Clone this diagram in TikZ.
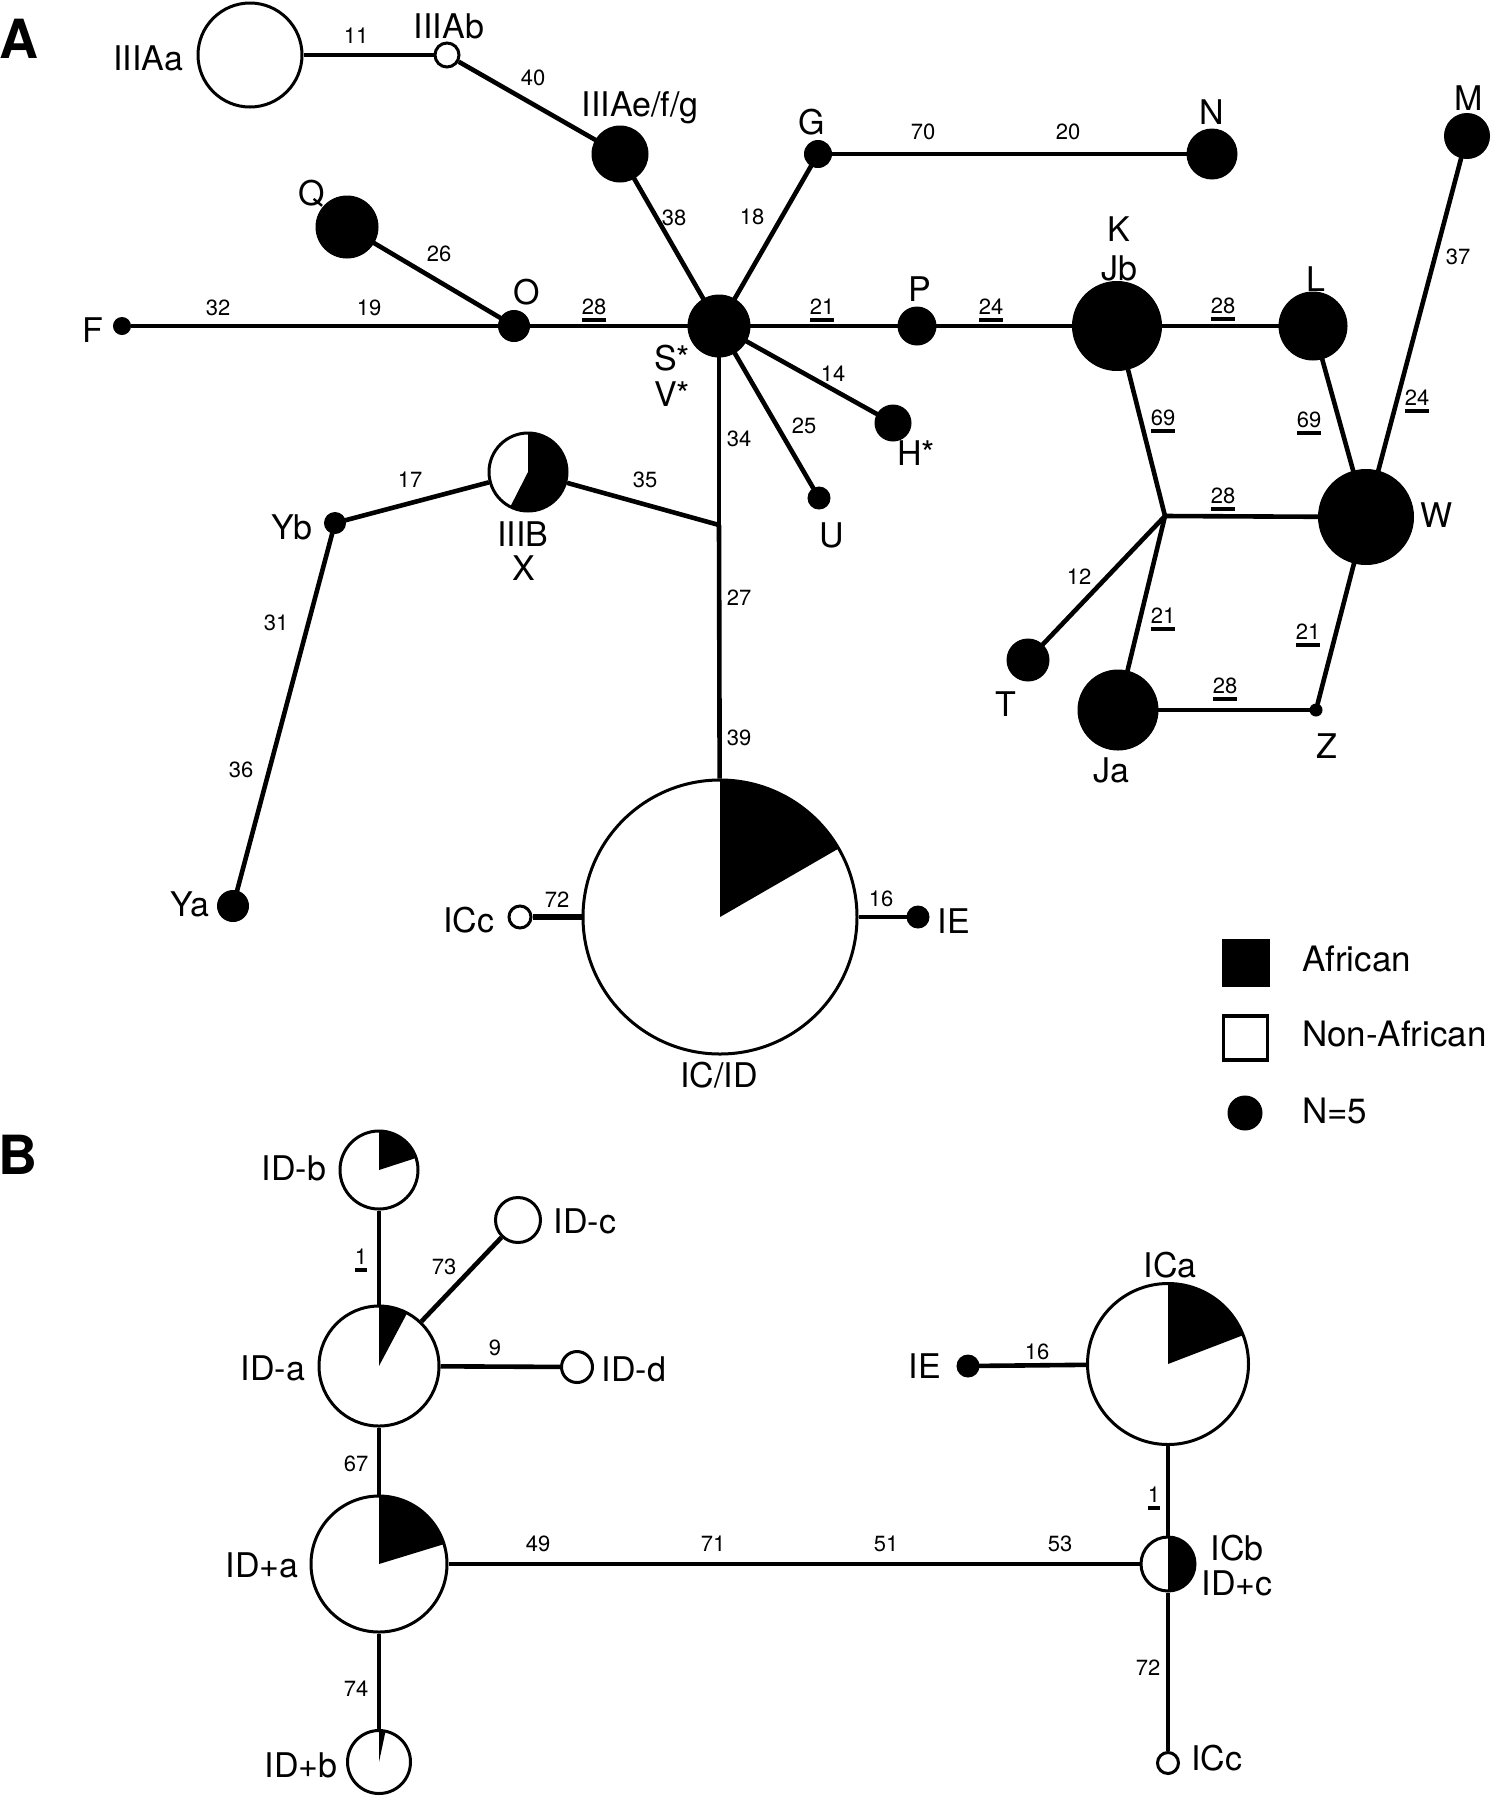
\documentclass[tikz,border=0pt]{standalone}
\usepackage{fontspec}
\setmainfont{TeX Gyre Heros}
\newsavebox\ulbox
\newcommand\ulnum[1]{\sbox\ulbox{#1}\rlap{\raisebox{-7.5pt}[0pt][0pt]{\rule{\wd\ulbox}{4pt}}}\usebox\ulbox}
\newcommand\piefill[3]{\fill (#1.center) -- ++(90:#2) arc[start angle=90, end angle=#3, radius=#2] -- cycle;}
\tikzset{
  blk/.style={circle, fill=black, draw=black, line width=1pt, inner sep=0pt, outer sep=0pt, minimum size=#1},
  wht/.style={circle, fill=white, draw=black, line width=3pt, inner sep=0pt, minimum size=#1},
  edge/.style={line width=4.6pt},
  lab/.style={font=\fontsize{34}{37}\selectfont, inner sep=0pt, text height=24pt, text depth=0pt},
  leg/.style={font=\fontsize{35}{38}\selectfont, inner sep=0pt, text height=25pt, text depth=0pt, anchor=west},
  num/.style={font=\fontsize{22}{24}\selectfont, inner sep=0pt, text height=15.8pt, text depth=0pt},
  panel/.style={font=\fontsize{54}{60}\selectfont\bfseries, inner sep=0pt, text height=39pt, text depth=0pt}
}
\begin{document}
\begin{tikzpicture}[x=1pt,y=1pt]
\useasboundingbox (0,0) rectangle (1493,-1800);
% ---------------- Panel A ----------------
\node[panel] (PA) at (19,-39) {A};
% nodes
\node[wht=104pt] (IIIAa) at (250,-55) {};
\node[wht=24pt] (IIIAb) at (447,-55) {};
\node[blk=56pt] (IIIAe) at (620,-154) {};
\node[blk=62pt] (Q) at (347,-227) {};
\node[blk=17pt] (F) at (122,-326) {};
\node[blk=31pt] (O) at (514,-326) {};
\node[blk=62pt] (S) at (719,-326) {};
\node[blk=27pt] (G) at (818,-154) {};
\node[blk=50pt] (N) at (1212,-154) {};
\node[blk=45pt] (M) at (1467,-136) {};
\node[blk=38pt] (P) at (917,-326) {};
\node[blk=89pt] (Jb) at (1117,-326) {};
\node[blk=68pt] (L) at (1313,-326) {};
\node[blk=36pt] (H) at (893,-423) {};
\node[blk=22pt] (U) at (819,-498) {};
\coordinate (J1) at (719,-525);
\node[wht=78pt] (IIIB) at (528,-472) {};
\node[blk=21pt] (Yb) at (335,-523) {};
\node[blk=31pt] (Ya) at (233,-906) {};
\node[wht=274pt] (ICD) at (720,-917) {};
\node[wht=22pt] (ICc) at (520,-917) {};
\node[blk=22pt] (IE) at (918,-917) {};
\coordinate (J2) at (1165,-516);
\node[blk=95pt] (W) at (1366,-517) {};
\node[blk=42pt] (T) at (1028,-660) {};
\node[blk=80pt] (Ja) at (1118,-710) {};
\node[blk=12pt] (Z) at (1316,-710) {};
% pies
\piefill{IIIB}{39}{-117}
\piefill{ICD}{137}{30}
% edges
\draw[edge] (IIIAa) -- (IIIAb);
\draw[edge] (IIIAb) -- (IIIAe);
\draw[edge] (IIIAe) -- (S);
\draw[edge] (S) -- (G);
\draw[edge] (G) -- (N);
\draw[edge] (F) -- (O);
\draw[edge] (O) -- (S);
\draw[edge] (Q) -- (O);
\draw[edge] (S) -- (P);
\draw[edge] (P) -- (Jb);
\draw[edge] (Jb) -- (L);
\draw[edge] (S) -- (H);
\draw[edge] (S) -- (U);
\draw[edge] (S) -- (J1);
\draw[edge] (J1) -- (ICD);
\draw[edge] (IIIB) -- (J1);
\draw[edge] (Yb) -- (IIIB);
\draw[edge] (Yb) -- (Ya);
\draw[line width=5.5pt] (ICc) -- (ICD);
\draw[edge] (ICD) -- (IE);
\draw[edge] (Jb) -- (J2);
\draw[edge] (J2) -- (W);
\draw[edge] (L) -- (W);
\draw[edge] (M) -- (W);
\draw[edge] (J2) -- (T);
\draw[edge] (J2) -- (Ja);
\draw[edge] (Ja) -- (Z);
\draw[edge] (Z) -- (W);
% node labels
\node[lab] (tIIIAa) at (148,-58) {IIIAa};
\node[lab] (tIIIAb) at (449,-26) {IIIAb};
\node[lab] (tIIIAe) at (640,-104) {IIIAe/f/g};
\node[lab] (tQ) at (312,-193) {Q};
\node[lab] (tO) at (527,-292) {O};
\node[lab] (tF) at (93,-330) {F};
\node[lab] (tS) at (672,-358) {S*};
\node[lab] (tV) at (672,-394) {V*};
\node[lab] (tG) at (812,-122) {G};
\node[lab] (tN) at (1212,-112) {N};
\node[lab] (tM) at (1469,-98) {M};
\node[lab] (tK) at (1119,-229) {K};
\node[lab] (tJb) at (1119,-268) {Jb};
\node[lab] (tP) at (920,-289) {P};
\node[lab] (tL) at (1316,-279) {L};
\node[lab] (tH) at (916,-453) {H*};
\node[lab] (tU) at (832,-535) {U};
\node[lab] (tW) at (1437,-515) {W};
\node[lab] (tIIIB) at (523,-534) {IIIB};
\node[lab] (tX) at (524,-568) {X};
\node[lab] (tYb) at (292,-527) {Yb};
\node[lab] (tYa) at (190,-904) {Ya};
\node[lab] (tICc) at (469,-920) {ICc};
\node[lab] (tIE) at (954,-921) {IE};
\node[lab] (tICD) at (719,-1075) {IC/ID};
\node[lab] (tT) at (1006,-704) {T};
\node[lab] (tJa) at (1111,-770) {Ja};
\node[lab] (tZ) at (1327,-746) {Z};
% edge labels
\node[num] (n1) at (356,-36) {11};
\node[num] (n2) at (533,-78) {40};
\node[num] (n3) at (674,-218) {38};
\node[num] (n4) at (439,-254) {26};
\node[num] (n5) at (218,-308) {32};
\node[num] (n6) at (369,-308) {19};
\node[num] (n7) at (594,-307) {\ulnum{28}};
\node[num] (n8) at (752,-217) {18};
\node[num] (n9) at (923,-132) {70};
\node[num] (n10) at (1068,-132) {20};
\node[num] (n11) at (822,-307) {\ulnum{21}};
\node[num] (n12) at (991,-307) {\ulnum{24}};
\node[num] (n13) at (1223,-306) {\ulnum{28}};
\node[num] (n14) at (1458,-257) {37};
\node[num] (n15) at (833,-374) {14};
\node[num] (n16) at (804,-426) {25};
\node[num] (n17) at (739,-439) {34};
\node[num] (n18) at (410,-480) {17};
\node[num] (n19) at (645,-480) {35};
\node[num] (n20) at (1163,-418) {\ulnum{69}};
\node[num] (n21) at (1309,-420) {\ulnum{69}};
\node[num] (n22) at (1417,-398) {\ulnum{24}};
\node[num] (n23) at (1223,-496) {\ulnum{28}};
\node[num] (n24) at (739,-598) {27};
\node[num] (n25) at (1079,-577) {12};
\node[num] (n26) at (1163,-616) {\ulnum{21}};
\node[num] (n27) at (1308,-632) {\ulnum{21}};
\node[num] (n28) at (1225,-686) {\ulnum{28}};
\node[num] (n29) at (276,-623) {31};
\node[num] (n30) at (241,-770) {36};
\node[num] (n31) at (739,-738) {39};
\node[num] (n32) at (557,-900) {72};
\node[num] (n33) at (881,-899) {16};
% legend
\node[rectangle, fill=black, draw=black, line width=1pt, minimum size=47pt, inner sep=0pt] (LA) at (1245.5,-963) {};
\node[rectangle, fill=white, draw=black, line width=3.3pt, minimum size=44pt, inner sep=0pt] (LN) at (1245.5,-1038) {};
\node[blk=34pt] (L5) at (1245,-1113) {};
\node[leg] (tLA) at (1302,-959) {African};
\node[leg] (tLN) at (1302,-1034) {Non-African};
\node[leg] (tL5) at (1302,-1111) {N=5};
% ---------------- Panel B ----------------
\node[panel] (PB) at (18,-1155) {B};
\node[wht=78pt] (IDb) at (379,-1170) {};
\node[wht=45pt] (IDc) at (518,-1220) {};
\node[wht=120pt] (IDa) at (379,-1366) {};
\node[wht=31pt] (IDd) at (577,-1367) {};
\node[wht=136pt] (IDpa) at (379,-1564) {};
\node[wht=63pt] (IDpb) at (379,-1762) {};
\node[wht=161pt] (ICa) at (1168,-1364) {};
\node[blk=22pt] (IEb) at (968,-1366) {};
\node[wht=54pt] (ICb) at (1168,-1564) {};
\node[wht=21pt] (ICcb) at (1168,-1763) {};
\piefill{IDb}{39}{18}
\piefill{IDa}{60}{62}
\piefill{IDpa}{68}{17}
\piefill{IDpb}{31.5}{78}
\piefill{ICa}{80.5}{21}
\piefill{ICb}{27}{-90}
\draw[edge] (IDb) -- (IDa);
\draw[edge] (IDa) -- (IDc);
\draw[edge] (IDa) -- (IDd);
\draw[edge] (IDa) -- (IDpa);
\draw[edge] (IDpa) -- (IDpb);
\draw[edge] (IDpa) -- (ICb);
\draw[edge] (IEb) -- (ICa);
\draw[edge] (ICa) -- (ICb);
\draw[edge] (ICb) -- (ICcb);
\node[lab] (tIDb) at (294,-1168) {ID-b};
\node[lab] (tIDc) at (585,-1221) {ID-c};
\node[lab] (tIDa) at (273,-1368) {ID-a};
\node[lab] (tIDd) at (634,-1369) {ID-d};
\node[lab] (tIDpa) at (262,-1565) {ID+a};
\node[lab] (tIDpb) at (301,-1765) {ID+b};
\node[lab] (tICa) at (1170,-1265) {ICa};
\node[lab] (tIEb) at (925,-1366) {IE};
\node[lab] (tICb) at (1237,-1548) {ICb};
\node[lab] (tIDpc) at (1237,-1583) {ID+c};
\node[lab] (tICcb) at (1217,-1758) {ICc};
\node[num] (m1) at (361,-1257) {\ulnum{1}};
\node[num] (m2) at (444,-1267) {73};
\node[num] (m3) at (495,-1348) {9};
\node[num] (m4) at (356,-1464) {67};
\node[num] (m5) at (538,-1544) {49};
\node[num] (m6) at (713,-1544) {71};
\node[num] (m7) at (886,-1544) {51};
\node[num] (m8) at (1060,-1544) {53};
\node[num] (m9) at (356,-1689) {74};
\node[num] (m10) at (1037,-1352) {16};
\node[num] (m11) at (1154,-1495) {\ulnum{1}};
\node[num] (m12) at (1148,-1668) {72};
\end{tikzpicture}
\end{document}
